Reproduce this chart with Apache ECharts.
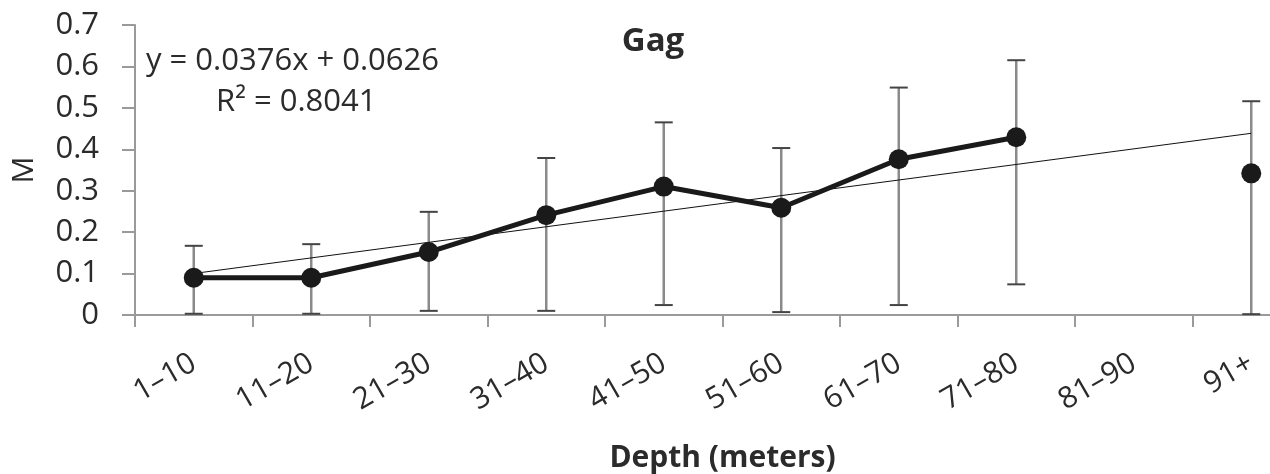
<!DOCTYPE html>
<html>
<head>
<meta charset="utf-8">
<script src="https://cdn.jsdelivr.net/npm/echarts@6/dist/echarts.min.js"></script>
<style>
  html, body { margin: 0; padding: 0; background: #fff; }
  #chart { width: 1270px; height: 474px; }
</style>
</head>
<body>
<div id="chart"></div>
<script>
// depth classes
const depthBins = ['1–10', '11–20', '21–30', '31–40', '41–50', '51–60', '61–70', '71–80', '81–90', '91+'];
// mean M per bin (81–90 has no data)
const meanM = [0.09, 0.09, 0.152, 0.241, 0.31, 0.259, 0.376, 0.429, null, 0.342];
// error bar extents
const errLow = [0.003, 0.003, 0.01, 0.01, 0.024, 0.007, 0.024, 0.074, null, 0.002];
const errHigh = [0.167, 0.171, 0.249, 0.379, 0.465, 0.403, 0.549, 0.615, null, 0.516];
// linear trend end points (y = 0.0376x + 0.0626)
const trendPoints = [['1–10', 0.1002], ['91+', 0.4386]];
const yTicks = [0, 0.1, 0.2, 0.3, 0.4, 0.5, 0.6, 0.7];

const font = '"Open Sans", "DejaVu Sans", sans-serif';
const textColor = '#2b2b2b';
const axisGray = '#9a9a9a';

const errData = [];
depthBins.forEach((b, i) => {
  if (errLow[i] != null) errData.push([i, errLow[i], errHigh[i]]);
});

const chart = echarts.init(document.getElementById('chart'));

const option = {
  animation: false,
  backgroundColor: '#fff',
  // plot runs past the right edge, like the cropped original
  grid: { left: 135, top: 25, width: 1175, height: 290, outerBoundsMode: 'none', containLabel: false },
  title: {
    text: 'Gag',
    left: 648,
    top: 20,
    textAlign: 'center',
    textStyle: { fontFamily: font, fontSize: 33, fontWeight: 'bold', color: textColor }
  },
  graphic: [
    {
      type: 'text', left: 146, top: 46,
      style: { text: 'y = 0.0376x + 0.0626', fontFamily: font, fontSize: 31, fill: textColor }
    },
    {
      type: 'text', left: 216, top: 87,
      style: { text: 'R² = 0.8041', fontFamily: font, fontSize: 31, fill: textColor }
    }
  ],
  xAxis: {
    type: 'category',
    data: depthBins,
    boundaryGap: true,
    name: 'Depth (meters)',
    nameLocation: 'middle',
    nameGap: 128,
    nameTextStyle: { fontFamily: font, fontSize: 30, fontWeight: 'bold', color: textColor },
    axisLine: { lineStyle: { color: axisGray, width: 2 } },
    axisTick: { show: true, length: 12, lineStyle: { color: axisGray, width: 2 } },
    axisLabel: { rotate: 30, margin: 46, fontFamily: font, fontSize: 30, color: textColor, interval: 0 },
    splitLine: { show: false }
  },
  yAxis: {
    type: 'value',
    min: yTicks[0],
    max: yTicks[yTicks.length - 1],
    interval: 0.1,
    name: 'M',
    nameLocation: 'middle',
    nameGap: 96,
    nameTextStyle: { fontFamily: font, fontSize: 30, color: textColor },
    axisLine: { show: true, lineStyle: { color: axisGray, width: 2 } },
    axisTick: { show: true, length: 13, lineStyle: { color: axisGray, width: 2 } },
    axisLabel: { margin: 36, fontFamily: font, fontSize: 31, color: textColor },
    splitLine: { show: false }
  },
  series: [
    {
      type: 'custom',
      name: 'error',
      data: errData,
      encode: { x: 0, y: [1, 2] },
      z: 1,
      renderItem: function (params, api) {
        const x = api.value(0);
        const lo = api.coord([x, api.value(1)]);
        const hi = api.coord([x, api.value(2)]);
        const cap = 9;
        return {
          type: 'group',
          children: [
            { type: 'line', shape: { x1: lo[0], y1: lo[1], x2: hi[0], y2: hi[1] },
              style: { stroke: '#8a8a8a', lineWidth: 2.5 } },
            { type: 'line', shape: { x1: lo[0] - cap, y1: lo[1], x2: lo[0] + cap, y2: lo[1] },
              style: { stroke: '#444', lineWidth: 2 } },
            { type: 'line', shape: { x1: hi[0] - cap, y1: hi[1], x2: hi[0] + cap, y2: hi[1] },
              style: { stroke: '#444', lineWidth: 2 } }
          ]
        };
      }
    },
    {
      type: 'line',
      name: 'trend',
      data: trendPoints,
      symbol: 'none',
      z: 2,
      lineStyle: { color: '#111', width: 1 }
    },
    {
      type: 'line',
      name: 'M',
      data: meanM,
      connectNulls: false,
      symbol: 'circle',
      symbolSize: 20,
      showSymbol: true,
      z: 3,
      itemStyle: { color: '#1a1a1a' },
      lineStyle: { color: '#1a1a1a', width: 5 }
    }
  ]
};

chart.setOption(option);
</script>
</body>
</html>
